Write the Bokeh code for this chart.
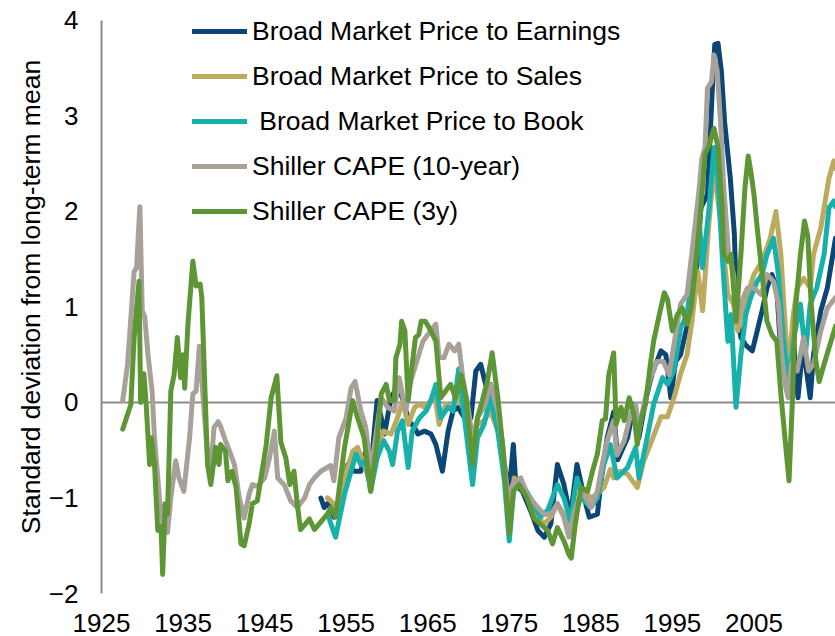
from bokeh.plotting import figure
from bokeh.models import Legend, LegendItem, Span, FixedTicker, Range1d
from bokeh.embed import file_html
from bokeh.resources import INLINE

# ---------------- data ----------------
pe_years = [1951.9, 1952.3, 1952.7, 1953.1, 1953.5, 1954.4, 1955.2, 1956.0, 1956.8, 1957.4, 1958.0, 1958.6,
            1958.8, 1959.3, 1959.7, 1960.5, 1961.4, 1962.2, 1962.7, 1963.3, 1963.8, 1964.6, 1965.4, 1966.0,
            1966.8, 1967.5, 1968.1, 1968.7, 1969.5, 1970.3, 1970.9, 1971.5, 1972.1, 1972.7, 1973.6, 1974.4,
            1975.0, 1975.5, 1975.8, 1976.6, 1977.6, 1978.5, 1979.3, 1980.1, 1980.9, 1981.7, 1982.5, 1983.3,
            1984.2, 1984.8, 1985.8, 1986.4, 1987.0, 1987.8, 1988.3, 1989.5, 1990.3, 1990.9, 1991.7, 1992.5,
            1993.6, 1994.2, 1994.8, 1995.4, 1996.0, 1996.8, 1997.8, 1998.5, 1999.3, 1999.9, 2000.2, 2000.6,
            2001.0, 2001.4, 2002.1, 2002.6, 2002.9, 2003.4, 2004.0, 2004.8, 2005.4, 2006.0, 2006.6, 2007.2,
            2007.8, 2008.2, 2008.8, 2009.3, 2009.9, 2010.4, 2011.0, 2011.9, 2012.3, 2013.2, 2014.0, 2015.0]
pe_values = [-1.00, -1.10, -1.06, -1.10, -1.20, -0.93, -0.65, -0.72, -0.72, -0.51, -0.72, -0.16,
             0.02, -0.16, -0.33, 0.05, 0.19, -0.05, -0.20, -0.25, -0.33, -0.30, -0.33, -0.44,
             -0.72, -0.30, -0.09, -0.05, -0.16, -0.16, 0.33, 0.40, 0.19, 0.19, -0.16, -0.65,
             -0.93, -0.44, -0.86, -0.93, -1.13, -1.34, -1.41, -1.27, -0.65, -0.86, -1.20, -0.65,
             -1.00, -1.20, -1.17, -0.72, -0.37, -0.10, -0.60, -0.37, -0.02, -0.37, 0.02, 0.30,
             0.54, 0.50, 0.05, 0.43, 0.50, 0.80, 1.20, 2.04, 2.18, 3.29, 3.75, 3.76,
             3.47, 2.94, 2.35, 1.76, 0.92, 0.68, 0.60, 0.54, 0.75, 0.96, 1.20, 1.34,
             1.20, 0.64, 0.30, 0.20, 0.60, 0.05, 0.60, 0.05, 0.50, 0.96, 1.20, 1.72]

ps_years = [1952.7, 1953.1, 1953.9, 1954.8, 1955.8, 1956.4, 1957.2, 1958.0, 1958.8, 1959.6, 1960.5, 1961.3,
            1961.9, 1962.6, 1963.4, 1964.0, 1964.6, 1965.4, 1965.8, 1966.4, 1967.2, 1968.1, 1968.8, 1969.5,
            1970.3, 1971.1, 1971.9, 1972.7, 1973.6, 1974.4, 1975.0, 1975.6, 1976.6, 1977.6, 1978.5, 1979.3,
            1980.1, 1980.9, 1981.7, 1982.5, 1983.3, 1984.2, 1985.0, 1985.8, 1986.6, 1987.4, 1987.8, 1988.6,
            1989.5, 1990.7, 1991.5, 1992.7, 1993.6, 1994.4, 1995.2, 1996.0, 1996.8, 1997.4, 1998.1, 1998.7,
            1999.5, 2000.1, 2000.9, 2001.8, 2002.5, 2003.0, 2003.4, 2004.2, 2005.0, 2006.0, 2007.0, 2007.7,
            2008.3, 2008.8, 2009.2, 2009.8, 2010.3, 2011.1, 2011.9, 2012.3, 2013.2, 2014.2, 2014.8, 2015.0]
ps_values = [-1.00, -1.03, -1.10, -0.79, -0.51, -0.47, -0.65, -0.86, -0.44, -0.30, -0.33, -0.16,
             0.02, -0.23, -0.05, -0.02, -0.05, 0.02, 0.12, -0.23, -0.02, -0.05, 0.05, -0.09,
             -0.30, -0.23, -0.19, -0.09, -0.30, -0.65, -1.20, -0.79, -0.86, -1.06, -1.20, -1.27,
             -1.20, -1.06, -1.17, -1.34, -1.10, -0.93, -1.00, -0.96, -0.89, -0.70, -0.79, -0.72,
             -0.75, -0.89, -0.61, -0.35, -0.15, -0.15, 0.05, 0.30, 0.50, 0.85, 1.38, 0.96,
             1.90, 2.45, 1.90, 1.13, 1.03, 0.75, 0.90, 1.13, 1.34, 1.48, 1.72, 2.00,
             1.55, 0.85, 0.30, 0.90, 1.20, 1.30, 1.20, 1.55, 1.83, 2.35, 2.53, 2.45]

pb_years = [1952.9, 1953.0, 1953.7, 1954.8, 1955.6, 1956.2, 1956.8, 1957.4, 1958.0, 1958.8, 1959.6, 1960.3,
            1960.7, 1961.3, 1961.9, 1962.6, 1963.1, 1964.0, 1964.8, 1965.4, 1966.0, 1966.6, 1967.5, 1968.1,
            1968.8, 1969.5, 1970.5, 1971.1, 1971.9, 1972.7, 1973.6, 1974.4, 1975.0, 1975.6, 1976.6, 1977.6,
            1978.8, 1979.7, 1980.9, 1981.7, 1982.5, 1983.3, 1984.2, 1985.0, 1985.8, 1986.6, 1987.4, 1988.2,
            1989.5, 1990.5, 1990.9, 1991.9, 1992.7, 1993.8, 1994.4, 1995.2, 1996.0, 1996.8, 1997.6, 1998.3,
            1998.7, 1999.5, 2000.1, 2000.5, 2001.1, 2001.8, 2002.2, 2002.8, 2003.4, 2004.0, 2004.6, 2005.4,
            2006.0, 2006.6, 2007.4, 2008.0, 2008.6, 2009.3, 2009.9, 2010.7, 2011.3, 2011.9, 2012.7, 2013.6,
            2014.2, 2014.8, 2015.0]
pb_values = [-1.20, -1.24, -1.41, -0.96, -0.72, -0.54, -0.65, -0.61, -0.93, -0.58, -0.40, -0.51,
             -0.65, -0.30, -0.19, -0.68, -0.30, -0.16, -0.09, 0.02, 0.19, -0.16, -0.05, -0.09,
             0.35, -0.16, -0.86, -0.37, -0.23, 0.05, -0.30, -0.82, -1.45, -0.86, -0.86, -1.00,
             -1.20, -1.13, -0.86, -1.00, -1.24, -0.79, -1.03, -1.10, -1.00, -0.65, -0.44, -0.79,
             -0.68, -0.47, -0.79, -0.37, -0.02, 0.26, 0.19, 0.33, 0.78, 0.92, 1.48, 1.90,
             1.41, 2.04, 2.67, 2.46, 1.55, 0.64, 0.92, -0.05, 0.50, 0.92, 1.10, 1.27,
             1.34, 1.55, 1.72, 1.34, 0.68, 0.16, 0.68, 1.03, 0.50, 1.03, 1.20, 1.55,
             2.04, 2.11, 2.05]

cape10_years = [1927.6, 1928.2, 1929.0, 1929.3, 1929.7, 1930.0, 1930.3, 1930.7, 1931.2, 1931.5, 1932.1, 1932.5,
                1933.1, 1933.5, 1934.1, 1934.5, 1935.1, 1935.8, 1936.2, 1936.6, 1937.0, 1937.5, 1938.0, 1938.4,
                1938.8, 1939.3, 1939.6, 1940.2, 1940.7, 1941.3, 1941.9, 1942.5, 1943.1, 1943.5, 1944.1, 1945.0,
                1945.6, 1946.2, 1946.6, 1947.4, 1948.2, 1949.0, 1949.9, 1950.5, 1951.1, 1951.9, 1953.1, 1953.5,
                1954.1, 1955.0, 1955.6, 1956.1, 1956.8, 1957.4, 1958.0, 1958.6, 1959.3, 1960.1, 1960.9, 1961.5,
                1962.3, 1962.9, 1963.8, 1964.4, 1965.0, 1965.6, 1966.0, 1966.4, 1967.0, 1967.6, 1968.3, 1968.8,
                1969.3, 1969.9, 1970.5, 1971.1, 1971.9, 1972.7, 1973.6, 1974.2, 1974.8, 1975.4, 1976.4, 1977.2,
                1978.5, 1979.3, 1980.1, 1980.9, 1981.7, 1982.3, 1983.1, 1984.0, 1985.0, 1985.8, 1986.4, 1987.0,
                1987.8, 1988.2, 1989.1, 1989.9, 1990.5, 1990.9, 1991.5, 1992.3, 1993.1, 1993.9, 1994.6, 1995.2,
                1996.0, 1996.8, 1997.6, 1998.3, 1998.6, 1999.0, 1999.3, 1999.8, 2000.1, 2000.5, 2000.9, 2001.3,
                2001.9, 2002.5, 2002.9, 2003.5, 2004.2, 2005.0, 2005.9, 2006.6, 2007.4, 2008.0, 2008.4, 2008.9,
                2009.2, 2009.6, 2010.3, 2011.1, 2011.7, 2012.3, 2013.2, 2014.0, 2015.0]
cape10_values = [0.02, 0.40, 1.37, 1.41, 2.05, 0.96, 0.90, 0.50, 0.12, -0.37, -1.00, -1.27,
                 -1.36, -1.00, -0.61, -0.79, -0.93, -0.37, 0.09, 0.12, 0.59, 0.00, -0.55, -0.70,
                 -0.26, -0.20, -0.25, -0.40, -0.51, -0.65, -1.00, -1.21, -0.96, -0.86, -0.88, -0.79,
                 -0.58, -0.30, -0.79, -0.86, -1.03, -1.10, -1.00, -0.86, -0.79, -0.72, -0.66, -0.82,
                 -0.37, -0.16, 0.15, 0.22, -0.09, -0.26, -0.72, -0.37, 0.05, -0.05, -0.09, 0.26,
                 -0.09, 0.22, 0.47, 0.64, 0.71, 0.78, 0.82, 0.47, 0.47, 0.61, 0.54, 0.61,
                 0.26, -0.02, -0.40, -0.16, -0.05, 0.19, -0.09, -0.44, -1.00, -0.86, -0.79, -0.96,
                 -1.10, -1.17, -1.17, -1.06, -1.20, -1.41, -1.10, -0.93, -1.10, -0.93, -0.65, -0.40,
                 -0.19, -0.55, -0.40, -0.12, -0.02, -0.30, -0.02, 0.26, 0.43, 0.43, 0.29, 0.61,
                 1.03, 1.13, 1.72, 2.25, 2.55, 2.67, 3.29, 3.36, 3.64, 3.47, 2.94, 2.25,
                 1.55, 1.34, 0.85, 1.06, 1.20, 1.20, 1.13, 1.34, 1.27, 1.03, 0.50, 0.16,
                 0.05, 0.40, 0.33, 0.68, 0.33, 0.40, 0.75, 0.99, 1.10]

cape3_years = [1927.6, 1928.6, 1929.0, 1929.6, 1929.8, 1930.2, 1930.5, 1930.9, 1931.1, 1931.5, 1931.9, 1932.3,
               1932.5, 1932.8, 1933.1, 1933.5, 1933.9, 1934.3, 1934.7, 1935.0, 1935.2, 1935.6, 1936.2, 1936.6,
               1937.1, 1937.3, 1938.0, 1938.4, 1939.0, 1939.4, 1939.6, 1940.2, 1940.5, 1941.0, 1941.5, 1942.1,
               1942.5, 1943.1, 1943.5, 1944.1, 1944.5, 1945.2, 1945.8, 1946.5, 1947.0, 1947.6, 1948.1, 1948.6,
               1949.0, 1949.4, 1950.5, 1951.1, 1951.7, 1952.7, 1953.1, 1953.7, 1954.8, 1955.8, 1956.4, 1957.2,
               1958.0, 1958.8, 1959.3, 1959.9, 1960.3, 1960.9, 1961.1, 1961.6, 1961.8, 1962.2, 1962.6, 1963.1,
               1963.5, 1963.9, 1964.2, 1964.7, 1965.4, 1966.0, 1966.6, 1967.2, 1967.8, 1968.4, 1969.1, 1969.7,
               1970.5, 1971.1, 1971.7, 1972.3, 1972.9, 1973.6, 1974.2, 1975.0, 1975.5, 1976.2, 1977.2, 1978.0,
               1978.8, 1979.7, 1980.3, 1980.9, 1981.7, 1982.3, 1982.6, 1983.1, 1983.8, 1984.6, 1985.2, 1985.8,
               1986.4, 1986.8, 1987.2, 1987.8, 1988.1, 1988.7, 1989.1, 1989.7, 1990.3, 1990.7, 1991.1, 1991.7,
               1992.3, 1992.7, 1993.4, 1994.0, 1994.4, 1995.0, 1995.6, 1996.2, 1996.8, 1997.3, 1997.9, 1998.5,
               1999.0, 1999.4, 2000.1, 2000.6, 2001.1, 2001.3, 2001.8, 2002.2, 2002.8, 2003.4, 2003.9, 2004.3,
               2004.6, 2005.0, 2005.4, 2006.0, 2006.6, 2007.2, 2007.8, 2008.3, 2008.8, 2009.3, 2009.7, 2010.1,
               2010.7, 2011.2, 2011.6, 2012.0, 2012.6, 2013.0, 2013.6, 2014.2, 2015.0]
cape3_values = [-0.28, -0.02, 0.68, 1.27, 0.00, 0.30, -0.05, -0.65, -0.37, -0.65, -1.34, -1.30,
                -1.80, -1.06, -1.17, 0.12, 0.29, 0.68, 0.26, 0.50, 0.15, 0.82, 1.48, 1.22,
                1.24, 1.10, -0.65, -0.86, -0.47, -0.65, -0.44, -0.51, -0.82, -0.72, -0.89, -1.48,
                -1.50, -1.27, -1.06, -1.03, -0.82, -0.44, 0.05, 0.28, -0.42, -0.58, -0.86, -0.72,
                -1.06, -1.33, -1.22, -1.33, -1.27, -1.17, -1.10, -1.20, -0.47, 0.02, -0.16, -0.37,
                -0.93, -0.40, 0.09, 0.19, 0.02, 0.02, 0.47, 0.61, 0.85, 0.75, 0.02, 0.40,
                0.68, 0.71, 0.85, 0.85, 0.75, 0.64, 0.05, 0.12, 0.19, 0.05, 0.29, 0.05,
                -0.65, -0.16, 0.02, 0.22, 0.52, 0.05, -0.47, -1.38, -0.93, -0.86, -1.00, -1.21,
                -1.27, -1.34, -1.48, -1.31, -1.45, -1.59, -1.63, -1.27, -0.89, -0.93, -0.72, -0.54,
                -0.19, -0.17, 0.29, 0.52, -0.23, -0.05, -0.19, 0.05, -0.13, -0.44, -0.19, -0.02,
                0.40, 0.64, 0.92, 1.15, 1.08, 0.75, 0.92, 0.99, 0.82, 0.99, 1.48, 2.04,
                2.60, 2.67, 2.87, 2.67, 2.04, 1.55, 1.48, 1.55, 0.85, 1.55, 2.25, 2.58,
                2.43, 2.18, 1.83, 1.34, 0.85, 0.71, 0.64, 0.09, -0.37, -0.82, -0.02, 0.99,
                1.55, 1.90, 1.74, 1.06, 0.43, 0.22, 0.40, 0.57, 0.80]

series_names = ["Broad Market Price to Earnings", "Broad Market Price to Sales",
                " Broad Market Price to Book", "Shiller CAPE (10-year)", "Shiller CAPE (3y)"]
series_colors = ["#0B4677", "#BBAA5F", "#17B0AA", "#A8A19A", "#5E9636"]

y_ticks = [-2, -1, 0, 1, 2, 3, 4]
x_ticks = [1925, 1935, 1945, 1955, 1965, 1975, 1985, 1995, 2005]

FONT = "Liberation Sans"

# frame reaches the top edge; the y range runs a little above 4 so that 4 sits 20px down
p = figure(width=835, height=636, output_backend="svg", toolbar_location=None,
           x_range=Range1d(1925, 2015), y_range=Range1d(-2, 4.2094),
           min_border_left=101, min_border_right=0, min_border_top=0, min_border_bottom=43)
p.outline_line_color = None
p.xgrid.grid_line_color = None
p.ygrid.grid_line_color = None
p.background_fill_color = "white"
p.border_fill_color = "white"

p.add_layout(Span(location=0, dimension="width", line_color="#8c8c8c", line_width=2, level="underlay"))

all_x = [pe_years, ps_years, pb_years, cape10_years, cape3_years]
all_y = [pe_values, ps_values, pb_values, cape10_values, cape3_values]
items = []
for xs, ys, name, col in zip(all_x, all_y, series_names, series_colors):
    r = p.line(xs, ys, line_color=col, line_width=5, line_join="round", line_cap="round")
    items.append(LegendItem(label=name, renderers=[r]))

legend = Legend(items=items, location=(91, 366), padding=0, margin=0, spacing=13,
                glyph_width=55, glyph_height=32, label_height=32, label_standoff=5,
                label_text_font=FONT, label_text_font_size="26.5px", label_text_color="black",
                border_line_color=None, background_fill_alpha=0)
p.add_layout(legend)

yax = p.yaxis[0]
yax.ticker = FixedTicker(ticks=y_ticks)
yax.bounds = (-2, 4)
yax.axis_line_color = "#8c8c8c"
yax.axis_line_width = 2
yax.major_tick_line_color = None
yax.minor_tick_line_color = None
yax.major_tick_out = 0
yax.major_tick_in = 0
yax.major_label_standoff = 23
yax.major_label_text_font = FONT
yax.major_label_text_font_size = "26px"
yax.major_label_text_color = "black"
yax.axis_label = "Standard deviation from long-term mean"
yax.axis_label_text_font = FONT
yax.axis_label_text_font_size = "26.5px"
yax.axis_label_text_font_style = "normal"
yax.axis_label_text_color = "black"
yax.axis_label_standoff = 0

xax = p.xaxis[0]
xax.ticker = FixedTicker(ticks=x_ticks)
xax.axis_line_color = None
xax.major_tick_line_color = None
xax.minor_tick_line_color = None
xax.major_tick_out = 0
xax.major_tick_in = 0
xax.major_label_standoff = 20
xax.major_label_text_font = FONT
xax.major_label_text_font_size = "26px"
xax.major_label_text_color = "black"

open("out.html", "w").write(file_html(p, INLINE))
